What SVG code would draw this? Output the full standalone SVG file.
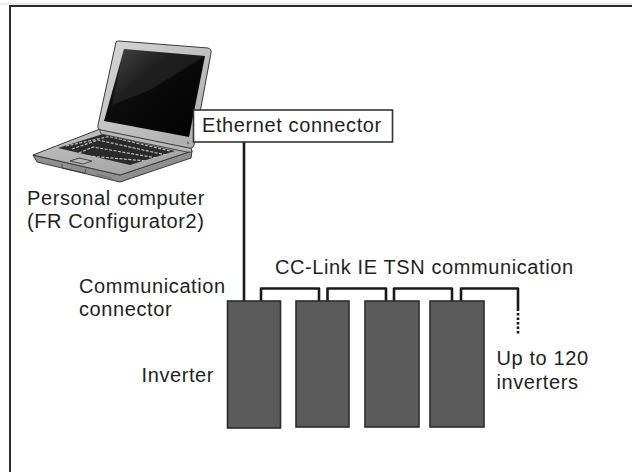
<svg xmlns="http://www.w3.org/2000/svg" width="632" height="472" viewBox="0 0 632 472">
  <style>
    .lbl { font-family: "Liberation Sans", Arial, sans-serif; font-size: 20px; letter-spacing: 0.6px; fill: #231f20; }
    .wire { fill: none; stroke: #1a1a1a; stroke-width: 2.6; stroke-linejoin: round; }
    .inv { fill: #5b5b5b; stroke: #2b2b2b; stroke-width: 1.6; }
    .frame { fill: none; stroke: #2b2b2b; stroke-width: 2; }
    .outline { stroke: #3a3a3a; stroke-width: 1; stroke-linejoin: round; }
  </style>
  <defs>
    <linearGradient id="lidGrad" x1="0" y1="0" x2="1" y2="1">
      <stop offset="0" stop-color="#d8d8d8"/>
      <stop offset="1" stop-color="#a9a9a9"/>
    </linearGradient>
    <linearGradient id="screenGrad" x1="0" y1="0" x2="1" y2="1">
      <stop offset="0" stop-color="#3a3a3a"/>
      <stop offset="0.35" stop-color="#0d0d0d"/>
      <stop offset="1" stop-color="#000000"/>
    </linearGradient>
    <linearGradient id="deckGrad" x1="0" y1="0" x2="1" y2="1">
      <stop offset="0" stop-color="#c4c4c4"/>
      <stop offset="1" stop-color="#9c9c9c"/>
    </linearGradient>
  </defs>

  <rect width="632" height="472" fill="#ffffff"/>
  <!-- outer frame (top and left edges) -->
  <line x1="0" y1="4" x2="632" y2="4" stroke="#d9d9d9" stroke-width="1"/>
  <path class="frame" d="M10,472 V6 H632"/>

  <!-- personal computer -->
  <g id="pc">
    <!-- base deck -->
    <path class="outline" fill="#8f8f8f" d="M33,155 L120,175 L192,151 L191,158 L120,182 L37,162 Z"/>
    <path class="outline" fill="url(#deckGrad)" d="M33,155 L100,129 L191,149 L192,151 L120,175 Z"/>
    <!-- keyboard -->
    <path fill="#2a2a2a" d="M58,148 L103,134 L175,151 L130,165 Z"/>
    <g stroke="#bdbdbd" stroke-width="1.2" stroke-dasharray="3 1.5" fill="none">
      <path d="M66,146 L109,136.5 L170,151"/>
      <path d="M72,149 L98,140 L166,155"/>
      <path d="M79,153 L93,147 L157,158"/>
      <path d="M88,156 L147,161"/>
    </g>
    <!-- touchpad and latch -->
    <path fill="#b5b5b5" stroke="#3a3a3a" stroke-width="0.9" d="M70,161 L79,158 L92,161 L83,164 Z"/>
    <path fill="none" stroke="#3a3a3a" stroke-width="0.8" d="M62,164 L62,168 L85,173 L86,169"/>
    <path fill="none" stroke="#6a6a6a" stroke-width="0.8" d="M96,174 L112,178 M98,176 L114,180"/>
    <!-- hinge strip -->
    <path fill="#b8b8b8" stroke="#3a3a3a" stroke-width="0.9" d="M99,128 L191,148 L192,152 L187,152 L101,134 Z"/>
    <!-- lid -->
    <path class="outline" fill="url(#lidGrad)" d="M116,42 Q117,41 119,41 L208,48 Q212,49 211,53 L194,145 Q193,149 189,148 L101,130 Q97,129 98,125 Z"/>
    <path fill="url(#screenGrad)" d="M124,49 L205,56 L189,137 L104,121 Z"/>
    <path fill="#ffffff" opacity="0.08" d="M124,49 L205,56 L150,90 L112,105 Z"/>
    <circle cx="188" cy="143" r="1.3" fill="#777777"/>
  </g>

  <g id="pc-label">
    <text class="lbl" x="27" y="205">Personal computer</text>
    <text class="lbl" x="27" y="228">(FR Configurator2)</text>
  </g>

  <!-- connectors -->
  <g id="connectors">
    <line class="wire" x1="244" y1="142" x2="244" y2="301"/>
    <path class="wire" d="M261,301 V288.5 H319 V301"/>
    <path class="wire" d="M327.5,301 V288.5 H386 V301"/>
    <path class="wire" d="M394,301 V288.5 H452 V301"/>
    <path class="wire" d="M461,301 V288.5 H518 V311"/>
    <line x1="518" y1="313" x2="518" y2="334" stroke="#1a1a1a" stroke-width="2.6" stroke-dasharray="2.5 2"/>
  </g>

  <g id="ethernet-connector">
    <rect x="193.5" y="110" width="199" height="32" fill="#ffffff" stroke="#333333" stroke-width="1.6"/>
    <text class="lbl" x="202" y="131.5">Ethernet connector</text>
  </g>

  <g id="inverter-1">
    <rect class="inv" x="227.5" y="301" width="53" height="127"/>
  </g>
  <g id="inverter-2">
    <rect class="inv" x="296" y="301" width="53" height="126"/>
  </g>
  <g id="inverter-3">
    <rect class="inv" x="365" y="301" width="54" height="126"/>
  </g>
  <g id="inverter-4">
    <rect class="inv" x="430" y="301" width="54" height="126"/>
  </g>

  <g id="labels">
    <text class="lbl" x="79" y="292.5">Communication</text>
    <text class="lbl" x="79" y="316">connector</text>
    <text class="lbl" x="141.5" y="381.5">Inverter</text>
    <text class="lbl" x="275" y="274">CC-Link IE TSN communication</text>
    <text class="lbl" x="496.5" y="365">Up to 120</text>
    <text class="lbl" x="496.5" y="388.5">inverters</text>
  </g>
</svg>
